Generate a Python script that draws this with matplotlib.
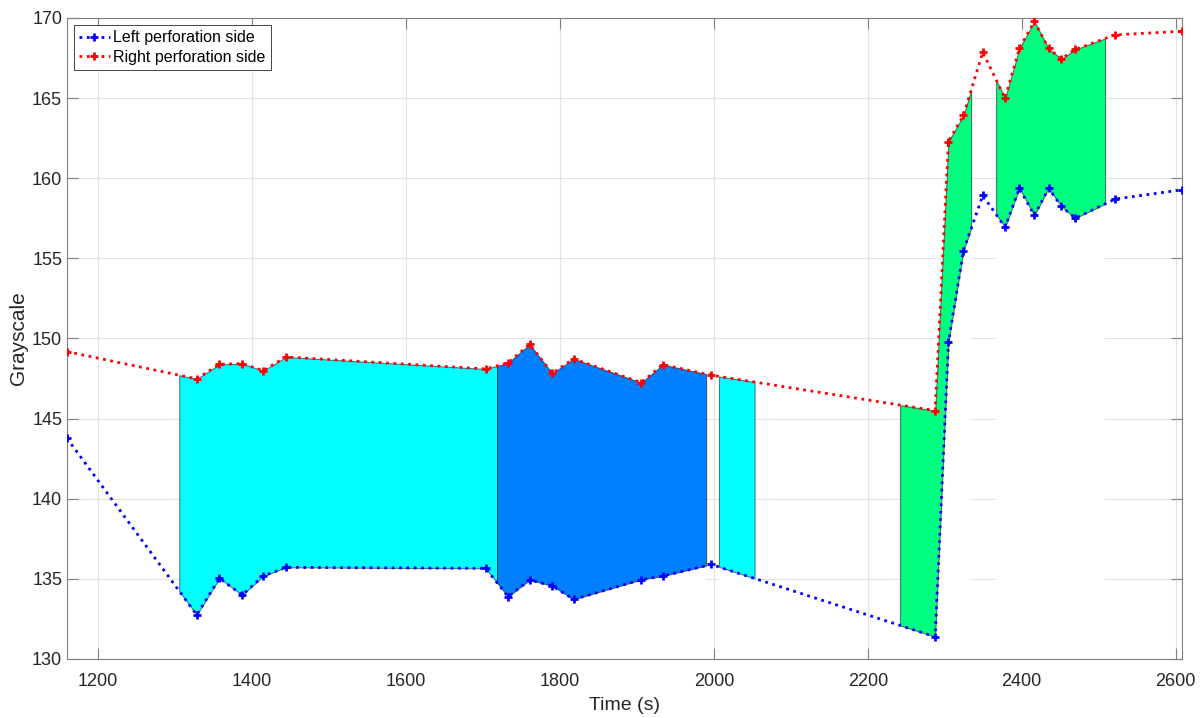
import numpy as np
import matplotlib
matplotlib.use("Agg")
import matplotlib.pyplot as plt

# Sample times (s) and grayscale readings on both perforation sides
time_s = [1159.4, 1328.0, 1357.5, 1387.0, 1414.5, 1444.0, 1703.5, 1732.5, 1760.6,
          1790.0, 1817.8, 1905.6, 1933.8, 1996.6, 2287.5, 2304.8, 2324.3, 2349.4,
          2378.4, 2397.0, 2416.5, 2435.0, 2451.6, 2469.7, 2521.3, 2608.3]
right_side = [149.18, 147.48, 148.39, 148.43, 148.00, 148.85, 148.10, 148.48, 149.64,
              147.83, 148.73, 147.25, 148.37, 147.71, 145.50, 162.29, 163.92, 167.87,
              164.99, 168.10, 169.79, 168.10, 167.45, 168.04, 168.95, 169.17]
left_side = [143.77, 132.75, 135.04, 133.99, 135.18, 135.72, 135.66, 133.89, 134.93,
             134.56, 133.72, 134.95, 135.18, 135.90, 131.39, 149.77, 155.49, 158.93,
             156.94, 159.38, 157.68, 159.38, 158.24, 157.51, 158.70, 159.28]

# Shaded intervals (start, end, colour)
interval_start = [1305.2, 1718.2, 2006.5, 2242.0, 2366.8]
interval_end = [1718.2, 1990.0, 2052.9, 2334.3, 2508.3]
interval_color = ["#00FFFF", "#0080FF", "#00FFFF", "#00FF80", "#00FF80"]

x_ticks = [1200, 1400, 1600, 1800, 2000, 2200, 2400, 2600]
y_ticks = [130, 135, 140, 145, 150, 155, 160, 165, 170]

plt.rcParams["font.family"] = ["Liberation Sans", "DejaVu Sans"]

fig = plt.figure(figsize=(12.01, 7.18), dpi=100)
ax = fig.add_axes([67 / 1201, 1 - 659 / 718, (1182 - 67) / 1201, (659 - 18) / 718])

t = np.asarray(time_s)
lo_all = np.asarray(left_side)
hi_all = np.asarray(right_side)

for a, b, c in zip(interval_start, interval_end, interval_color):
    inner = t[(t > a) & (t < b)]
    xs = np.concatenate([[a], inner, [b]])
    lo = np.interp(xs, t, lo_all)
    hi = np.interp(xs, t, hi_all)
    # white base hides the grid under each shaded band
    ax.fill_between(xs, 120, lo, facecolor="white", edgecolor="none", lw=0, zorder=1)
    ax.fill_between(xs, lo, hi, facecolor=c, edgecolor=(0, 0, 0, 0.55), lw=0.7, zorder=1.2)

ax.plot(time_s, left_side, linestyle=":", color="blue", lw=2, marker="+",
        markersize=6, markeredgewidth=2, label="Left perforation side", zorder=3)
ax.plot(time_s, right_side, linestyle=":", color="red", lw=2, marker="+",
        markersize=6, markeredgewidth=2, label="Right perforation side", zorder=3)

ax.set_xlim(time_s[0], time_s[-1])
ax.set_ylim(130, 170)
ax.set_xticks(x_ticks)
ax.set_yticks(y_ticks)
ax.set_axisbelow(True)
ax.grid(True, color="#e3e3e3", lw=0.8)

for s in ax.spines.values():
    s.set_color("#808080")
    s.set_linewidth(0.8)
ax.tick_params(direction="in", length=8, width=0.8, color="#808080",
               labelsize=13, labelcolor="#262626", top=True, right=True)
ax.tick_params(axis="x", pad=10)
ax.tick_params(axis="y", pad=3.5)

ax.set_xlabel("Time (s)", fontsize=14, color="#262626", labelpad=5)
ax.set_ylabel("Grayscale", fontsize=15, color="#262626", labelpad=3)

leg = ax.legend(loc="upper left", fontsize=11.5, fancybox=False, framealpha=1,
                edgecolor="#262626", borderpad=0.35, handletextpad=0.2,
                labelspacing=0.28, handlelength=1.9, borderaxespad=0.42)
leg.get_frame().set_linewidth(0.6)

fig.savefig("out.png", dpi=100)
